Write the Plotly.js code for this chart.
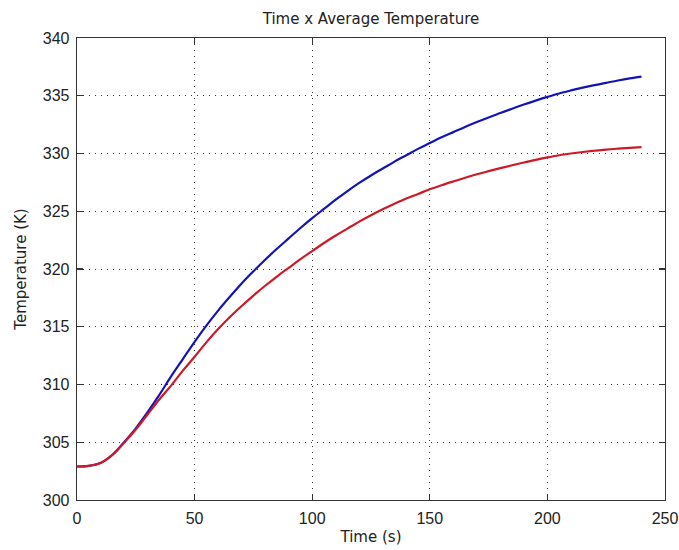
<!DOCTYPE html>
<html>
<head>
<meta charset="utf-8">
<script src="https://cdn.plot.ly/plotly-3.0.1.min.js"></script>
<style>html,body{margin:0;padding:0;background:#fff;}#chart{width:679px;height:550px;}</style>
</head>
<body>
<div id="chart"></div>
<script>
const time = [0,5,10,15,20,25,30,35,40,45,50,55,60,65,70,75,80,85,90,95,100,105,110,115,120,125,130,135,140,145,150,155,160,165,170,175,180,185,190,195,200,205,210,215,220,225,230,235,240];
const blueTemp = [302.9,302.95,303.2,303.9,305.0,306.2,307.6,309.1,310.7,312.2,313.7,315.1,316.4,317.6,318.75,319.8,320.8,321.75,322.65,323.55,324.4,325.2,326.0,326.75,327.45,328.1,328.7,329.3,329.85,330.4,330.9,331.4,331.85,332.3,332.72,333.12,333.5,333.88,334.24,334.58,334.9,335.2,335.46,335.7,335.92,336.12,336.32,336.5,336.65];
const redTemp = [302.9,302.95,303.2,303.9,304.95,306.1,307.4,308.7,309.9,311.2,312.4,313.65,314.8,315.85,316.8,317.7,318.55,319.35,320.1,320.85,321.55,322.25,322.9,323.5,324.1,324.65,325.17,325.65,326.1,326.5,326.9,327.25,327.58,327.9,328.2,328.47,328.73,328.98,329.22,329.45,329.66,329.85,330.0,330.13,330.24,330.34,330.42,330.49,330.55];
const xTicks = [0,50,100,150,200,250];
const yTicks = [300,305,310,315,320,325,330,335,340];

const traces = [
  {x: time, y: blueTemp, type: 'scatter', mode: 'lines', line: {color: '#1414b4', width: 2.2, shape: 'spline'}, showlegend: false},
  {x: time, y: redTemp, type: 'scatter', mode: 'lines', line: {color: '#cc1a28', width: 2.2, shape: 'spline'}, showlegend: false}
];

const tickFont = {family: 'Liberation Sans, Arial, sans-serif', size: 16, color: '#222'};
const labelFont = {family: 'DejaVu Sans, sans-serif', size: 15, color: '#222'};

const axisCommon = {
  showline: true, linecolor: '#333', linewidth: 1.3, mirror: 'allticks',
  ticks: 'inside', ticklen: 6, tickcolor: '#333', tickwidth: 1.3,
  showgrid: true, gridcolor: '#333', griddash: '1px,5px', gridwidth: 1,
  zeroline: false, ticklabelstandoff: 3,
  tickfont: tickFont
};

const layout = {
  width: 679, height: 550,
  paper_bgcolor: '#fff', plot_bgcolor: '#fff',
  margin: {l: 77, r: 14, t: 38, b: 50},
  title: {text: 'Time x Average Temperature', xref: 'paper', x: 0.5, xanchor: 'center', yref: 'container', y: 0.966, yanchor: 'middle',
          font: labelFont},
  xaxis: Object.assign({}, axisCommon, {
    range: [0, 250], tickvals: xTicks, ticktext: xTicks.map(String),
    title: {text: 'Time (s)', standoff: 6, font: labelFont}
  }),
  yaxis: Object.assign({}, axisCommon, {
    range: [300, 340], tickvals: yTicks, ticktext: yTicks.map(String),
    title: {text: 'Temperature (K)', standoff: 12, font: labelFont}
  })
};

Plotly.newPlot('chart', traces, layout, {displayModeBar: false, staticPlot: true});
</script>
</body>
</html>
